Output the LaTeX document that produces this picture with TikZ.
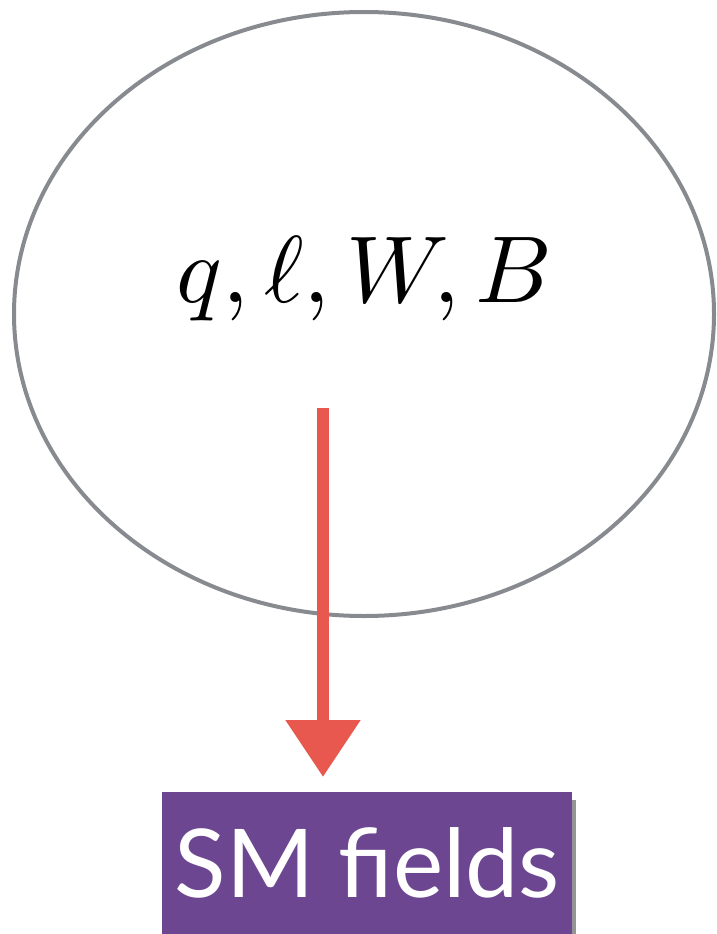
\documentclass[tikz,border=0pt]{standalone}
\usepackage{graphicx}
\usepackage{fontspec}
\newfontfamily\boxfont{Lato}
\usetikzlibrary{arrows.meta,shapes.geometric}
\definecolor{ringgray}{HTML}{878A8F}
\definecolor{arrowred}{HTML}{E8584F}
\definecolor{boxpurple}{HTML}{6C4691}
\tikzset{
  ring/.style={draw=ringgray, line width=4pt, ellipse, inner sep=0pt, minimum width=700pt, minimum height=604pt},
  redarrow/.style={draw=arrowred, line width=12pt, -{Triangle[width=72pt,length=57pt]}},
  fieldbox/.style={fill=boxpurple, text=white, inner sep=0pt, font=\boxfont\fontsize{95}{100}\selectfont}
}
\begin{document}
\begin{tikzpicture}[x=1pt,y=-1pt]
\useasboundingbox (0,0) rectangle (716,934);
\node[ring] (cloud) at (364,314) {};
\node[anchor=base, inner sep=0pt] (lbl) at (364.5,302.5) {\scalebox{9.5}{$q,\ell,W,B$}};
\fill[black!60, opacity=0.7] (572,800) rectangle (576,934);
\node[fieldbox, minimum width=410pt, minimum height=142pt, anchor=north west] (sm) at (162,792) {SM fields};
\coordinate (start) at (323,408);
\draw[redarrow, shorten >=15pt] (start) -- (start |- sm.north);
\end{tikzpicture}
\end{document}
